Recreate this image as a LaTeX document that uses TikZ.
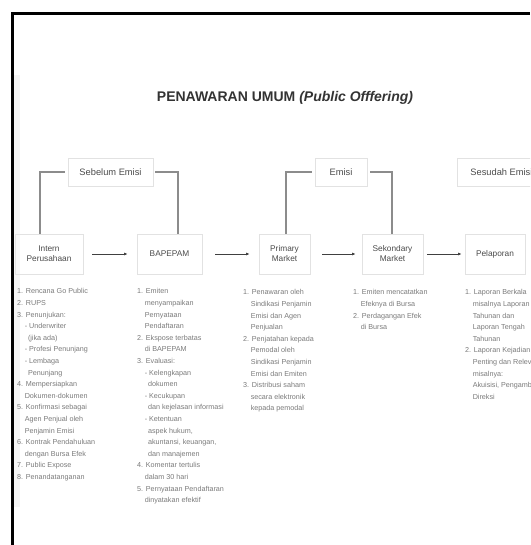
\documentclass[tikz,border=0pt]{standalone}
\usepackage{fontspec}
\setmainfont{Liberation Sans}
\usetikzlibrary{arrows.meta}
\definecolor{boxline}{HTML}{E2E2E2}
\definecolor{bracketgray}{HTML}{8C8C8C}
\definecolor{listgray}{HTML}{7A7A7A}
\definecolor{labelgray}{HTML}{4A4A4A}
\newcommand{\ind}{\hspace*{1.05em}}
\newcommand{\indd}{\hspace*{1.5em}}
\tikzset{
  stagebox/.style={draw=boxline, line width=0.8pt, minimum height=40pt, inner sep=1pt,
    align=center, text=labelgray, font=\fontsize{8.3}{10}\selectfont},
  phasebox/.style={draw=boxline, line width=0.8pt, minimum height=28pt, inner sep=1pt,
    text=labelgray, font=\fontsize{9.3}{11}\selectfont},
  steplist/.style={anchor=north west, inner sep=0pt, align=left, text=listgray,
    font=\fontsize{7.2}{11.6}\selectfont},
  flow/.style={draw=black!75, line width=0.8pt, -{Latex[length=3.5pt,width=3pt]}},
  bracket/.style={draw=bracketgray, line width=1.2pt}
}
\begin{document}
\begin{tikzpicture}[x=1pt,y=-1pt]
  \useasboundingbox (0,0) rectangle (530,545);
  \clip (0,0) rectangle (530,545);
  % frame
  \fill[gray!8] (13,75) rectangle (20,507);
  \draw[line width=3pt] (12,545) -- (12,13.5) -- (530,13.5);
  \node[text=black!80, font=\fontsize{14}{16}\selectfont\bfseries] (title) at (285,98)
    {PENAWARAN UMUM \textit{(Public Offfering)}};
  % phases
  \node[phasebox, minimum width=85pt] (sebelum) at (110.5,172) {Sebelum Emisi};
  \node[phasebox, minimum width=52pt] (emisi) at (341,172) {Emisi};
  \node[phasebox, minimum width=88pt, anchor=west] (sesudah) at (457,172) {Sesudah Emisi};
  % stages
  \node[stagebox, minimum width=68pt] (intern) at (49,254) {Intern\\Perusahaan};
  \node[stagebox, minimum width=65pt] (bapepam) at (169.5,254) {BAPEPAM};
  \node[stagebox, minimum width=51pt] (primary) at (284.5,254) {Primary\\Market};
  \node[stagebox, minimum width=61pt] (sekondary) at (392.5,254) {Sekondary\\Market};
  \node[stagebox, minimum width=60pt] (pelaporan) at (495,254) {Pelaporan};
  \draw[flow] ([xshift=9pt]intern.east) -- ([xshift=-9pt]bapepam.west);
  \draw[flow] ([xshift=13pt]bapepam.east) -- ([xshift=-9pt]primary.west);
  \draw[flow] ([xshift=12pt]primary.east) -- ([xshift=-6pt]sekondary.west);
  \draw[flow] ([xshift=4pt]sekondary.east) -- ([xshift=-3pt]pelaporan.west);
  % brackets
  \coordinate (b1) at (40,234);
  \coordinate (b2) at (178,234);
  \coordinate (e1) at (286,234);
  \coordinate (e2) at (392,234);
  \draw[bracket, shorten <=3pt] (sebelum.west) -| (b1);
  \draw[bracket, shorten <=2pt] (sebelum.east) -| (b2);
  \draw[bracket, shorten <=3pt] (emisi.west) -| (e1);
  \draw[bracket, shorten <=3pt] (emisi.east) -| (e2);
  % lists
  \node[steplist] (internlist) at (17,288.5) {%
    1. Rencana Go Public\\
    2. RUPS\\
    3. Penunjukan:\\
    \ind - Underwriter\\
    \indd (jika ada)\\
    \ind - Profesi Penunjang\\
    \ind - Lembaga\\
    \indd Penunjang\\
    4. Mempersiapkan\\
    \ind Dokumen-dokumen\\
    5. Konfirmasi sebagai\\
    \ind Agen Penjual oleh\\
    \ind Penjamin Emisi\\
    6. Kontrak Pendahuluan\\
    \ind dengan Bursa Efek\\
    7. Public Expose\\
    8. Penandatanganan};
  \node[steplist] (bapepamlist) at (137,288.5) {%
    1. Emiten\\
    \ind menyampaikan\\
    \ind Pernyataan\\
    \ind Pendaftaran\\
    2. Ekspose terbatas\\
    \ind di BAPEPAM\\
    3. Evaluasi:\\
    \ind - Kelengkapan\\
    \indd dokumen\\
    \ind - Kecukupan\\
    \indd dan kejelasan informasi\\
    \ind - Ketentuan\\
    \indd aspek hukum,\\
    \indd akuntansi, keuangan,\\
    \indd dan manajemen\\
    4. Komentar tertulis\\
    \ind dalam 30 hari\\
    5. Pernyataan Pendaftaran\\
    \ind dinyatakan efektif};
  \node[steplist] (primarylist) at (243,289.5) {%
    1. Penawaran oleh\\
    \ind Sindikasi Penjamin\\
    \ind Emisi dan Agen\\
    \ind Penjualan\\
    2. Penjatahan kepada\\
    \ind Pemodal oleh\\
    \ind Sindikasi Penjamin\\
    \ind Emisi dan Emiten\\
    3. Distribusi saham\\
    \ind secara elektronik\\
    \ind kepada pemodal};
  \node[steplist] (sekondarylist) at (353,289.5) {%
    1. Emiten mencatatkan\\
    \ind Efeknya di Bursa\\
    2. Perdagangan Efek\\
    \ind di Bursa};
  \node[steplist] (pelaporanlist) at (465,289.5) {%
    1. Laporan Berkala\\
    \ind misalnya Laporan\\
    \ind Tahunan dan\\
    \ind Laporan Tengah\\
    \ind Tahunan\\
    2. Laporan Kejadian\\
    \ind Penting dan Relevan\\
    \ind misalnya:\\
    \ind Akuisisi, Pengambilalihan\\
    \ind Direksi};
\end{tikzpicture}
\end{document}
